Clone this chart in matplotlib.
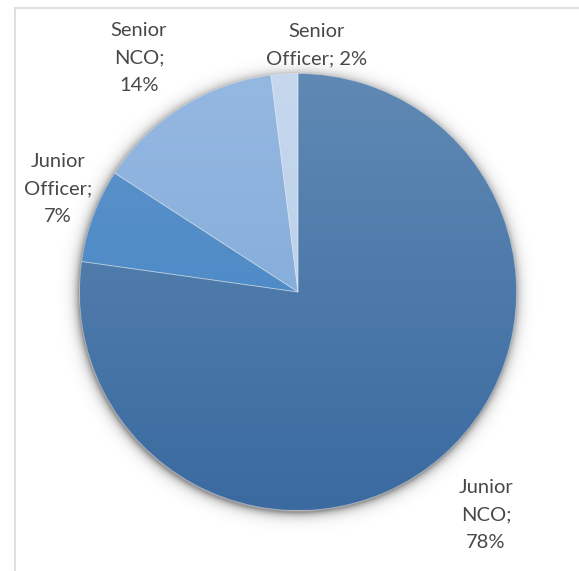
import numpy as np
import matplotlib
matplotlib.use('Agg')
from matplotlib import pyplot as plt
from matplotlib.colors import LinearSegmentedColormap

# Share of personnel by rank group (clockwise from 12 o'clock)
categories = ['Junior NCO', 'Junior Officer', 'Senior NCO', 'Senior Officer']
shares = [78, 7, 14, 2]
# Top / bottom shade of each slice
top_colors = ['#6089b4', '#5f93c9', '#95b8e1', '#c6d8ee']
bottom_colors = ['#3a6aa0', '#3f84c6', '#79a5d6', '#b3cae8']

W, H = 579, 571
CX, CY, R = 298, 292, 218.5   # pie centre and radius in pixels

fig = plt.figure(figsize=(W / 100, H / 100), dpi=100)
ax = fig.add_axes([0, 0, 1, 1])
ax.axis('off')

# chart-area frame (only top and left edges fall inside the image)
fig.add_artist(plt.Line2D([15 / W, 1], [1 - 7.5 / H, 1 - 7.5 / H], color='#d9d9d9', lw=1.2))
fig.add_artist(plt.Line2D([15 / W, 15 / W], [1 - 7.5 / H, 0], color='#d9d9d9', lw=1.2))

# soft drop shadow under the pie
gx = np.linspace(-1.2, 1.2, 600)
gy = np.linspace(-1.2, 1.2, 600)
XX, YY = np.meshgrid(gx, gy)
rr = np.hypot(XX + 0.006, YY + 0.012)
shadow = np.zeros((600, 600, 4))
shadow[..., 3] = np.where(rr > 1, 0.4 * np.exp(-(rr - 1) / 0.022), 0.4)
ax.imshow(shadow, extent=(-1.2, 1.2, -1.2, 1.2), origin='lower', zorder=1)

wedges, _ = ax.pie(shares, startangle=90, counterclock=False, radius=1,
                   colors=top_colors,
                   wedgeprops=dict(edgecolor=(1, 1, 1, 0.35), linewidth=0.6))

# vertical gradient fill clipped to each slice
for w, c0, c1 in zip(wedges, top_colors, bottom_colors):
    cmap = LinearSegmentedColormap.from_list('g', [c1, c0])
    grad = np.linspace(0, 1, 256).reshape(-1, 1)
    im = ax.imshow(grad, cmap=cmap, extent=(-1, 1, -1, 1), origin='lower',
                   aspect='auto', zorder=3)
    im.set_clip_path(w)
    w.set_facecolor('none')
    w.set_zorder(4)

ax.set_xlim((0 - CX) / R, (W - CX) / R)
ax.set_ylim((CY - H) / R, CY / R)

# data labels: "Category; value%"
label_px = {
    'Junior NCO': (486, 515, 'Junior\nNCO;\n{}%'),
    'Junior Officer': (58, 189, 'Junior\nOfficer;\n{}%'),
    'Senior NCO': (139, 58, 'Senior\nNCO;\n{}%'),
    'Senior Officer': (317, 45, 'Senior\nOfficer; {}%'),
}
for name, val in zip(categories, shares):
    px, py, fmt = label_px[name]
    ax.text((px - CX) / R, (CY - py) / R, fmt.format(val), ha='center', va='center',
            fontsize=14.5, family='Lato', color='#484848', linespacing=1.78, zorder=5)

plt.savefig('out.png', dpi=100, facecolor='white')
